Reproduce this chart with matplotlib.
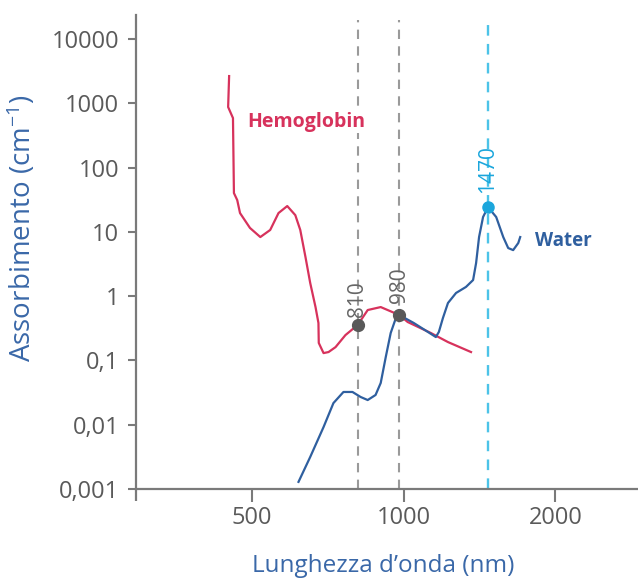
import matplotlib.pyplot as plt
from matplotlib.ticker import FixedLocator, FixedFormatter, NullLocator

plt.rcParams['font.family'] = ['Open Sans', 'DejaVu Sans']
plt.rcParams['mathtext.default'] = 'regular'

# absorption curves (wavelength nm, absorption cm^-1)
hb_wl = [450, 448, 458, 460, 467, 473, 495, 519, 543, 564, 587, 609, 623, 638,
         652, 668, 677, 678, 693, 709, 732, 766, 810, 848, 900, 980, 1018, 1132,
         1224, 1360]
hb_abs = [2650, 873, 589, 40.1, 31.2, 19.6, 11.5, 8.3, 10.7, 19.6, 25.2, 18.2, 10.7,
          4.06, 1.60, 0.676, 0.382, 0.187, 0.130, 0.135, 0.161, 0.248, 0.356, 0.608,
          0.676, 0.508, 0.396, 0.267, 0.193, 0.135]

water_wl = [618, 652, 693, 725, 759, 791, 821, 848, 879, 900, 921, 942, 964, 980,
            1047, 1117, 1158, 1174, 1196, 1224, 1270, 1329, 1373, 1392, 1411, 1437,
            1470, 1526, 1576, 1612, 1649, 1688, 1703]
water_abs = [0.00129, 0.00315, 0.0092, 0.0217, 0.0323, 0.0323, 0.027, 0.0242, 0.029,
             0.0446, 0.113, 0.267, 0.45, 0.508, 0.382, 0.277, 0.231, 0.277, 0.456,
             0.782, 1.12, 1.39, 1.78, 3.27, 8.3, 17.0, 24.3, 17.0, 8.3, 5.6, 5.2,
             6.7, 8.3]

grey_marks = [810, 980]
grey_vals = [0.356, 0.508]
grey_offsets = [6, 9]
laser = 1470
laser_val = 24.3

y_ticks = [0.001, 0.01, 0.1, 1, 10, 100, 1000, 10000]
y_labels = ['0,001', '0,01', '0,1', '1', '10', '100', '1000', '10000']
x_ticks = [500, 1000, 2000]
x_labels = ['500', '1000', '2000']

red = '#d7325c'
blue = '#2f5f9f'
cyan = '#4cc3e8'
dot_cyan = '#1ba6dc'
grey = '#666666'
label_blue = '#3a68a8'

fig = plt.figure(figsize=(6.38, 5.82), dpi=100)
ax = fig.add_axes([0.2132, 0.1598, 0.787, 0.8144])
ax.set_xscale('log')
ax.set_yscale('log')
ax.set_xlim(294, 2920)
ax.set_ylim(0.001, 23600)

for wl in grey_marks:
    ax.axvline(wl, ymax=0.99, color='#9a9a9a', lw=1.5, ls=(0, (4.5, 3.5)), zorder=1)
ax.axvline(laser, ymax=0.99, color=cyan, lw=1.7, ls=(0, (4.5, 3.5)), zorder=1)

ax.plot(hb_wl, hb_abs, color=red, lw=1.6, zorder=2, solid_joinstyle='round')
ax.plot(water_wl, water_abs, color=blue, lw=1.6, zorder=3, solid_joinstyle='round')

ax.plot(grey_marks, grey_vals, 'o', color='#595959', ms=8.5, zorder=4)
ax.plot([laser], [laser_val], 'o', color=dot_cyan, ms=8, zorder=4)

for wl, v, off in zip(grey_marks, grey_vals, grey_offsets):
    ax.annotate(str(wl), (wl, v), xytext=(0, off), textcoords='offset points',
                rotation=90, ha='center', va='bottom', fontsize=15, color=grey)
ax.annotate(str(laser), (laser, laser_val), xytext=(0, 10), textcoords='offset points',
            rotation=90, ha='center', va='bottom', fontsize=15, color=dot_cyan)

ax.text(0.2224, 0.774, 'Hemoglobin', transform=ax.transAxes, color=red,
        fontsize=14, fontweight='bold', va='center', zorder=5,
        bbox=dict(facecolor='white', edgecolor='none', pad=0.5))
ax.text(0.7956, 0.523, 'Water', transform=ax.transAxes, color=blue,
        fontsize=13.5, fontweight='bold', va='center')

ax.yaxis.set_major_locator(FixedLocator(y_ticks))
ax.yaxis.set_major_formatter(FixedFormatter(y_labels))
ax.yaxis.set_minor_locator(NullLocator())
ax.xaxis.set_major_locator(FixedLocator(x_ticks))
ax.xaxis.set_major_formatter(FixedFormatter(x_labels))
ax.xaxis.set_minor_locator(NullLocator())

for side in ['top', 'right']:
    ax.spines[side].set_visible(False)
for side in ['left', 'bottom']:
    ax.spines[side].set_color('#7a7a7a')
    ax.spines[side].set_linewidth(1.6)
# left spine runs a little below the x axis
ax.plot([0, 0], [0, -0.026], transform=ax.transAxes, color='#7a7a7a', lw=1.6,
        clip_on=False, solid_capstyle='butt')

ax.tick_params(colors='#7a7a7a', width=1.5, labelsize=17, labelcolor='#5a5a5a')
ax.tick_params(axis='y', length=6, pad=6)
ax.tick_params(axis='x', length=9.5, pad=3)

ax.set_ylabel('Assorbimento (cm$^{-1}$)', color=label_blue, fontsize=20)
ax.yaxis.set_label_coords(-0.195, 0.55)
ax.set_xlabel('Lunghezza d’onda (nm)', color=label_blue, fontsize=17.5)
ax.xaxis.set_label_coords(0.492, -0.138)

fig.savefig('out.png', dpi=100)
